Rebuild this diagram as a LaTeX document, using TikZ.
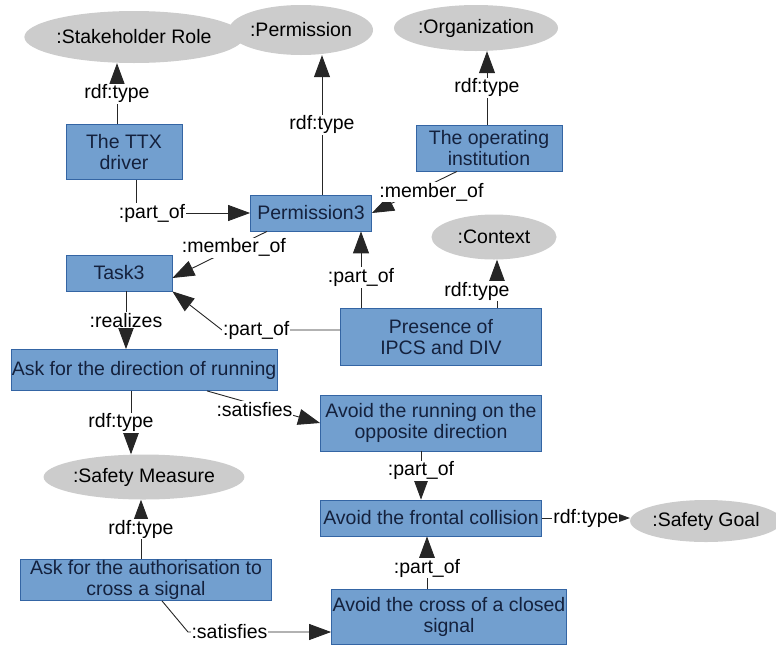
\documentclass[tikz,border=0pt]{standalone}
\usepackage{fontspec}
\setmainfont{Liberation Sans}
\usetikzlibrary{arrows.meta,shapes.geometric}
\definecolor{boxblue}{HTML}{729FCF}
\definecolor{boxline}{HTML}{3465A4}
\definecolor{boxtext}{HTML}{14213D}
\definecolor{classgray}{HTML}{CCCCCC}

\begin{document}
\begin{tikzpicture}[
    x=1pt, y=-1pt,
    font=\fontsize{19.5}{21.5}\selectfont,
    inst/.style={draw=boxline, fill=boxblue, text=boxtext, line width=0.8pt, align=center, inner sep=0pt},
    cls/.style={ellipse, fill=classgray, inner sep=0pt},
    lbl/.style={fill=white, inner sep=1pt},
    arrow/.style={-{Triangle[length=22pt,width=16pt]}, line width=0.9pt, draw=black!85}
  ]
    \useasboundingbox (0,0) rectangle (776,646);

    % classes
    \node[cls, minimum width=168, minimum height=52] (role) at (134,37) {:Stakeholder Role};
    \node[cls, minimum width=142, minimum height=50] (perm) at (301,30) {:Permission};
    \node[cls, minimum width=141, minimum height=46] (org) at (476,28) {:Organization};
    \node[cls, minimum width=125, minimum height=45] (ctx) at (494,237) {:Context};
    \node[cls, minimum width=167, minimum height=45] (measure) at (144,477) {:Safety Measure};
    \node[cls, minimum width=139, minimum height=42] (goal) at (706,521) {:Safety Goal};

    % individuals
    \node[inst, minimum width=116, minimum height=55] (driver) at (124,152) {The TTX\\driver};
    \node[inst, minimum width=146, minimum height=46] (opinst) at (489,148) {The operating\\institution};
    \node[inst, minimum width=121, minimum height=36] (perm3) at (311,213) {Permission3};
    \node[inst, minimum width=106, minimum height=36] (task3) at (119,273) {Task3};
    \node[inst, minimum width=201, minimum height=57] (ipcs) at (441,337) {Presence of\\IPCS and DIV};
    \node[inst, minimum width=266, minimum height=41] (askdir) at (144,370) {Ask for the direction of running};
    \node[inst, minimum width=221, minimum height=56] (avrun) at (431,423) {Avoid the running on the\\opposite direction};
    \node[inst, minimum width=221, minimum height=36] (frontal) at (431,518) {Avoid the frontal collision};
    \node[inst, minimum width=251, minimum height=41] (askauth) at (146,580) {Ask for the authorisation to\\cross a signal};
    \node[inst, minimum width=235, minimum height=55] (closed) at (449,617) {Avoid the cross of a closed\\signal};

    \coordinate (bendA) at (222,330);
    \coordinate (bendB) at (188,632);

    % relations
    \draw[arrow] ([xshift=-7]driver.north) -- node[lbl]{rdf:type} ([xshift=-7]driver.north |- role.south);
    \draw[arrow] ([xshift=12]driver.south) |- node[lbl, pos=0.57]{:part\_of} (perm3.west);
    \draw[arrow] ([xshift=11]perm3.north) -- node[lbl]{rdf:type} ([xshift=11]perm3.north |- perm.south);
    \draw[arrow] ([xshift=-32]opinst.south) -- node[lbl, pos=0.3, yshift=-8]{:member\_of} (perm3.east);
    \draw[arrow] ([xshift=-2]opinst.north) -- node[lbl]{rdf:type} ([xshift=-2]opinst.north |- org.south);
    \draw[arrow] ([xshift=-44]perm3.south) -- node[lbl, pos=0.35]{:member\_of} ([yshift=-5]task3.east);
    \draw[arrow] ([xshift=-80]ipcs.north) -- node[lbl, pos=0.4]{:part\_of} ([xshift=-80]ipcs.north |- perm3.south);
    \draw[arrow] ([xshift=56]ipcs.north) -- node[lbl, pos=0.35, xshift=-20]{rdf:type} ([xshift=56]ipcs.north |- ctx.south);
    \draw[arrow] ([yshift=7]ipcs.west) -- node[lbl, pos=0.71]{:part\_of} (bendA) -- (task3.south east);
    \draw[arrow] ([xshift=7]task3.south) -- node[lbl]{:realizes} ([xshift=7]task3.south |- askdir.north);
    \draw[arrow] ([xshift=-13]askdir.south) -- node[lbl, xshift=-10]{rdf:type} ([xshift=-13]askdir.south |- measure.north);
    \draw[arrow] ([xshift=63]askdir.south) -- node[lbl, pos=0.42, yshift=-5]{:satisfies} (avrun.west);
    \draw[arrow] ([xshift=-10]avrun.south) -- node[lbl, pos=0.4]{:part\_of} ([xshift=-10]avrun.south |- frontal.north);
    \draw[arrow] (frontal.east) -- node[lbl]{rdf:type} (frontal.east -| goal.west);
    \draw[arrow] ([xshift=-5]askauth.north) -- node[lbl]{rdf:type} ([xshift=-5]askauth.north |- measure.south);
    \draw[arrow] ([xshift=16]askauth.south) -- (bendB) -- node[lbl, pos=0.29]{:satisfies} ([yshift=-15]closed.west);
    \draw[arrow] ([xshift=-22]closed.north) -- node[lbl, pos=0.4]{:part\_of} ([xshift=-22]closed.north |- frontal.south);
  \end{tikzpicture}
\end{document}
